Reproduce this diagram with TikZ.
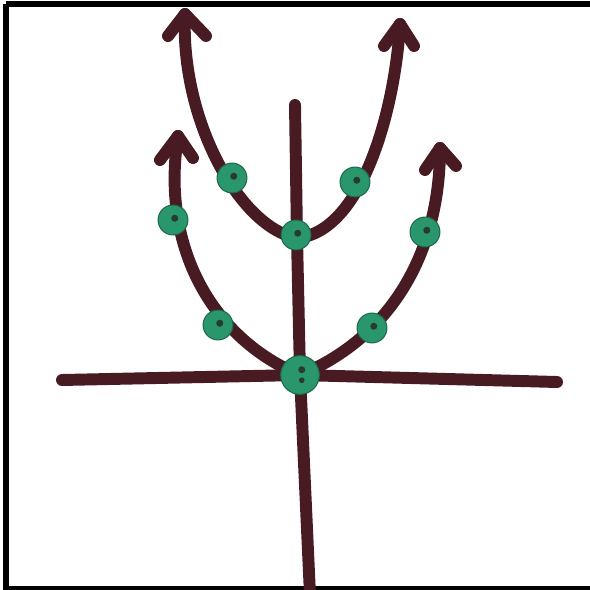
\documentclass[tikz,border=0pt]{standalone}
\usepackage{xcolor}
\usetikzlibrary{arrows,positioning}
\definecolor{stem}{RGB}{72,26,34}
\definecolor{leaf}{RGB}{42,150,108}
\definecolor{seed}{RGB}{40,60,45}
\tikzset{
  stroke/.style={draw=stem,line width=6.8pt,line cap=round,line join=round},
  bud/.style={circle,fill=leaf,draw=leaf!70!black,line width=0.6pt,inner sep=0pt,minimum size=17pt},
  bigbud/.style={bud,minimum size=22pt},
  frame/.style={draw=black,line width=3pt}
}
\begin{document}
\begin{tikzpicture}[x=0.02cm,y=-0.02cm]
\useasboundingbox (0,0) rectangle (590,590);
%Frame
\draw [frame] (6,4) -- (590,4);
\draw [frame] (6,4) -- (6,589) -- (590,589);

%Axes
\coordinate (o) at (300,375);
\coordinate (xl) at (62,380);
\coordinate (xr) at (557,382);
\coordinate (yt) at (295,105);
\coordinate (yb) at (310,595);
\coordinate (v) at (297,238);
\draw [stroke] (xl) -- (o) -- (xr);
\draw [stroke] (yt) -- (v) -- (o) -- (yb);

%Outer curve
\coordinate (ol) at (178,136);
\coordinate (or) at (440,148);
\draw [stroke] (o) .. controls (215,340) and (160,250) .. (ol);
\draw [stroke] (o) .. controls (385,340) and (440,260) .. (or);

%Inner curve
\coordinate (il) at (185,14);
\coordinate (ir) at (400,24);
\draw [stroke] (v) .. controls (240,228) and (180,120) .. (il);
\draw [stroke] (v) .. controls (362,232) and (395,110) .. (ir);

%Arrow heads
\draw [stroke] (160,160) -- (ol) -- (193,158);
\draw [stroke] (425,170) -- (or) -- (456,166);
\draw [stroke] (168,36) -- (il) -- (206,36);
\draw [stroke] (384,46) -- (ir) -- (414,46);

%Buds
\node [bigbud] (b0) at (300,375) {};
\node [bud] (b1) at (218,325) {};
\node [bud] (b2) at (173,220) {};
\node [bud] (b3) at (232,178) {};
\node [bud] (b4) at (296,235) {};
\node [bud] (b5) at (355,182) {};
\node [bud] (b6) at (425,232) {};
\node [bud] (b7) at (372,328) {};
\foreach \b in {b1,b2,b3,b4,b5,b6,b7}
  \fill [seed] ([xshift=1pt,yshift=1pt]\b.center) circle (2pt);
\fill [seed] ([xshift=1pt,yshift=3pt]b0.center) circle (2pt);
\fill [seed] ([xshift=1pt,yshift=-3pt]b0.center) circle (1.6pt);
\end{tikzpicture}
\end{document}
